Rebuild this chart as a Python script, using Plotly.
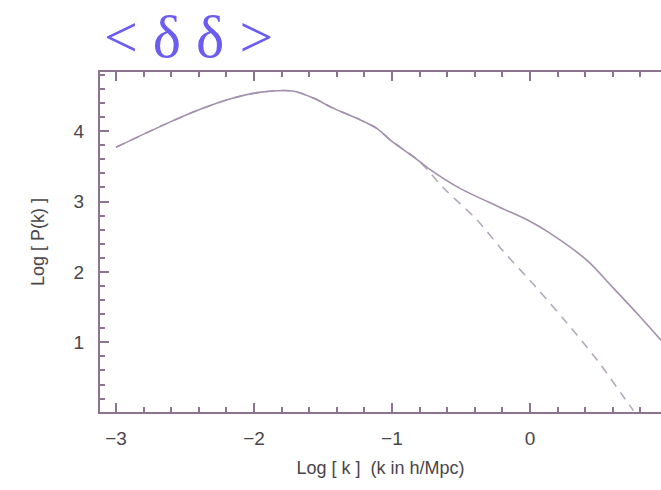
import plotly.graph_objects as go

# Data
log_k_nl = [-3.0, -2.63, -2.39, -2.15, -1.96, -1.72, -1.57, -1.43, -1.23, -1.11, -1.01, -0.94, -0.8,
            -0.72, -0.51, -0.22, 0.0, 0.145, 0.41, 0.60, 0.80, 0.95]
log_p_nl = [3.77, 4.11, 4.31, 4.47, 4.55, 4.57, 4.47, 4.33, 4.16, 4.04, 3.87, 3.77, 3.57,
            3.45, 3.19, 2.92, 2.72, 2.55, 2.17, 1.78, 1.36, 1.03]

log_k_lin = [-3.0, -2.63, -2.39, -2.15, -1.96, -1.72, -1.57, -1.43, -1.23, -1.11, -1.01, -0.94, -0.8,
             -0.63, -0.38, -0.2, 0.05, 0.27, 0.49, 0.67, 0.75]
log_p_lin = [3.77, 4.11, 4.31, 4.47, 4.55, 4.57, 4.47, 4.33, 4.16, 4.04, 3.87, 3.77, 3.57,
             3.20, 2.73, 2.31, 1.77, 1.27, 0.74, 0.25, 0.03]

line_col = "#a48fae"
axis_col = "#8c7490"

fig = go.Figure()
fig.add_trace(go.Scatter(x=log_k_lin, y=log_p_lin, mode="lines",
                         line=dict(color="#b4a8bc", width=1.6, dash="9px,7px", shape="spline", smoothing=0.9),
                         showlegend=False))
fig.add_trace(go.Scatter(x=log_k_nl, y=log_p_nl, mode="lines",
                         line=dict(color=line_col, width=1.6, shape="spline", smoothing=0.9),
                         showlegend=False))

fig.update_layout(
    width=661, height=490,
    margin=dict(l=100, r=0, t=72, b=78),
    paper_bgcolor="white", plot_bgcolor="white",
    font=dict(family="Liberation Sans, Arial, sans-serif", color="#4a454a", size=19),
)
fig.add_annotation(text="&lt; δ δ &gt;", xref="paper", yref="paper",
                   x=0.0, y=1.0, xanchor="left", yanchor="bottom",
                   xshift=2, yshift=0, showarrow=False,
                   font=dict(family="Liberation Serif, DejaVu Serif, serif", size=60, color="#6b5cf2"))

fig.update_xaxes(
    range=[-3.116, 0.95], tick0=0, dtick=1, showgrid=False, zeroline=False,
    showline=True, linecolor=axis_col, linewidth=2, mirror="ticks",
    ticks="inside", ticklen=9, tickcolor=axis_col, tickwidth=1.5,
    minor=dict(dtick=0.2, ticks="inside", ticklen=5, tickcolor=axis_col, tickwidth=1.5),
    title=dict(text="Log [ k ]  (k in h/Mpc)", font=dict(size=18), standoff=14),
    tickfont=dict(size=19), ticklabelstandoff=8,
)
fig.update_yaxes(
    range=[0.01, 4.84], tick0=0, dtick=1, showgrid=False, zeroline=False,
    showline=True, linecolor=axis_col, linewidth=2, mirror=False,
    ticks="inside", ticklen=9, tickcolor=axis_col, tickwidth=1.5,
    minor=dict(dtick=0.2, ticks="inside", ticklen=5, tickcolor=axis_col, tickwidth=1.5),
    title=dict(text="Log [ P(k) ]", font=dict(size=18), standoff=24),
    tickfont=dict(size=19), ticklabelstandoff=10,
)

fig.write_html("out.html")
